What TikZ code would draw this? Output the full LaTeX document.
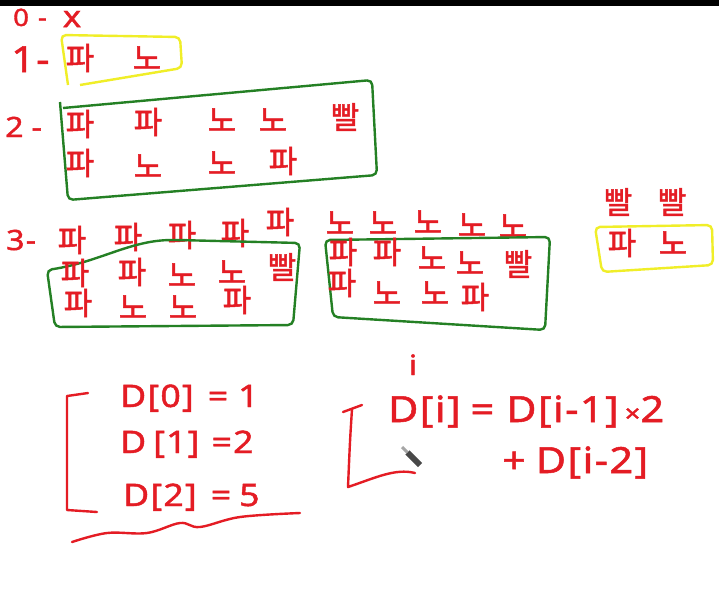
\documentclass[tikz,border=0pt]{standalone}
\usepackage{fontspec}
\setmainfont{Noto Sans}
\newfontfamily\krfont{Noto Sans CJK KR}[FakeBold=1.6]
\newfontfamily\handfont{Noto Sans}[FakeBold=1.4, FakeStretch=1.15, LetterSpace=4]
\usetikzlibrary{calc}
\definecolor{penred}{RGB}{228,28,36}
\definecolor{pengreen}{RGB}{36,128,36}
\definecolor{penyellow}{RGB}{240,238,40}
\definecolor{pencilgray}{RGB}{72,72,72}
\newcommand{\drawGlyphs}[2]{
	\foreach \gx/\gy/\gt [count=\gn] in {#2}
		\node[glyph] (#1\gn) at (\gx,\gy) {\gt};
}
\newcommand{\drawQuad}[5]{
	\draw[frame, draw=#1] (#2) -- (#3) -- (#4) -- (#5) -- cycle;
}

\begin{document}
\begin{tikzpicture}[x=1pt, y=-1pt,
		glyph/.style={text=penred, font=\krfont\fontsize{31}{31}\selectfont, inner sep=0pt},
		lvl/.style={text=penred, font=\handfont\fontsize{28}{28}\selectfont, inner sep=0pt, anchor=base west},
		eq/.style={text=penred, font=\handfont\fontsize{31}{31}\selectfont, inner sep=0pt, anchor=base west},
		bigeq/.style={eq, font=\handfont\fontsize{36}{36}\selectfont},
		frame/.style={line width=2.4pt, rounded corners=5pt},
		pen/.style={draw=penred, line width=2.4pt, line cap=round, line join=round}]
		% page and top bar
		\fill[white] (0,0) rectangle (719,608);
		\useasboundingbox (0,0) rectangle (719,608);
		\fill[black] (0,0) rectangle (719,6);

		% level labels
		\node[lvl, font=\handfont\fontsize{24}{24}\selectfont] (lvlZero) at (13,26) {0\hspace{9pt}-};
		\node[text=penred, font=\handfont\fontsize{30}{30}\selectfont, inner sep=0pt] (zeroX) at (72,19) {x};
		\node[lvl, font=\handfont\fontsize{36}{36}\selectfont] (lvlOne) at (11,72) {1-};
		\node[lvl] (lvlTwo) at (5,137) {2\hspace{8pt}-};
		\node[lvl] (lvlThree) at (6,250) {3-};

		% level 1
		\coordinate (Y1_A) at (68,85);
		\coordinate (Y1_B) at (61,35);
		\coordinate (Y1_C) at (180,37);
		\coordinate (Y1_D) at (182,68);
		\coordinate (Y1_E) at (80,85);
		\draw[frame, draw=penyellow] (Y1_A) -- (Y1_B) -- (Y1_C) -- (Y1_D) -- (Y1_E);
		\drawGlyphs{one}{80/58/파, 147/58/노}

		% level 2
		\coordinate (G2_A) at (60,102);
		\coordinate (G2_B) at (68,200);
		\coordinate (G2_C) at (377,175);
		\coordinate (G2_D) at (372,80);
		\coordinate (G2_E) at (63,108);
		\draw[frame, draw=pengreen] (G2_A) -- (G2_B) -- (G2_C) -- (G2_D) -- (G2_E);
		\drawGlyphs{twoA}{80/124/파, 148/122/파, 222/120/노, 273/120/노, 345/117/빨}
		\drawGlyphs{twoB}{80/163/파, 148/166/노, 222/163/노, 283/161/파}

		% level 3
		\drawGlyphs{threeTop}{72/240/파, 128/237/파, 182/235/파, 235/233/파, 280/222/파,
			340/223/노, 383/223/노, 428/222/노, 472/225/노, 513/226/노}
		\coordinate (G3a_A) at (47,270);
		\coordinate (G3a_B) at (177,240);
		\coordinate (G3a_C) at (300,243);
		\coordinate (G3a_D) at (293,325);
		\coordinate (G3a_E) at (55,327);
		\draw[frame, draw=pengreen] (G3a_A) .. controls (100,262) and (130,240) .. (G3a_B)
			-- (G3a_C) -- (G3a_D) -- (G3a_E) -- cycle;
		\drawGlyphs{threeA}{75/273/파, 132/272/파, 182/275/노, 232/272/노, 282/267/빨}
		\drawGlyphs{threeB}{78/303/파, 133/307/노, 183/307/노, 237/300/파}

		\coordinate (G3b_A) at (325,240);
		\coordinate (G3b_B) at (550,237);
		\coordinate (G3b_C) at (545,330);
		\coordinate (G3b_D) at (333,317);
		\drawQuad{pengreen}{G3b_A}{G3b_B}{G3b_C}{G3b_D}
		\drawGlyphs{threeC}{343/252/파, 387/252/파, 432/258/노, 470/263/노, 518/264/빨}
		\drawGlyphs{threeD}{342/283/파, 387/293/노, 435/293/노, 475/297/파}

		\drawGlyphs{threeRed}{618/202/빨, 672/202/빨}
		\coordinate (Y3_A) at (595,227);
		\coordinate (Y3_B) at (712,225);
		\coordinate (Y3_C) at (713,265);
		\coordinate (Y3_D) at (602,272);
		\drawQuad{penyellow}{Y3_A}{Y3_B}{Y3_C}{Y3_D}
		\drawGlyphs{threeY}{622/243/파, 673/243/노}

		% base cases
		\draw[pen] (88,393) -- (67,396) -- (67,510) -- (97,512);
		\node[eq] (baseZero) at (120,407) {D[0]\hspace{14pt}=\hspace{10pt}1};
		\node[eq] (baseOne) at (120,453) {D\hspace{7pt}[1]\hspace{12pt}=2};
		\node[eq] (baseTwo) at (123,506) {D[2]\hspace{14pt}=\hspace{8pt}5};
		\draw[pen] plot[smooth, tension=0.6] coordinates {(72,542) (107,533) (147,533) (180,523) (200,527) (240,517) (300,513)};

		% recurrence
		\node[text=penred, font=\handfont\fontsize{28}{28}\selectfont, inner sep=0pt, anchor=base] (idx) at (413,375) {i};
		\draw[pen] (343,412) -- (362,405);
		\draw[pen] (352,409) .. controls (350,440) .. (348,487) .. controls (375,478) and (395,468) .. (415,473);
		\node[bigeq] (recA) at (388,422) {D[i]\hspace{10pt}=\hspace{12pt}D[i-1]\hspace{6pt}{\fontsize{24}{24}\selectfont×}2};
		\node[bigeq] (recB) at (502,473) {+\hspace{10pt}D[i-2]};

		% pencil cursor
		\coordinate (pencilEnd) at (420,465);
		\coordinate (pencilTip) at (402,447);
		\draw[pencilgray, line width=6pt] (pencilEnd) -- ($(pencilTip)!0.3!(pencilEnd)$);
		\draw[gray!70, line width=3pt] ($(pencilTip)!0.3!(pencilEnd)$) -- (pencilTip);
	\end{tikzpicture}
\end{document}
